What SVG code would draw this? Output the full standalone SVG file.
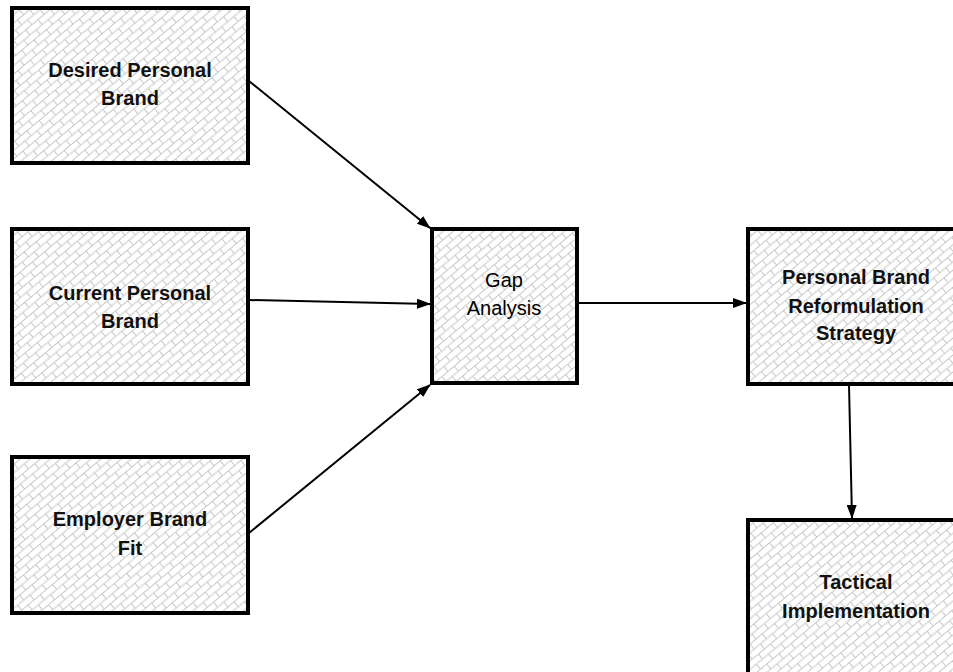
<svg xmlns="http://www.w3.org/2000/svg" width="953" height="672" viewBox="0 0 953 672">
<defs>
<pattern id="brick" width="16" height="13" patternUnits="userSpaceOnUse" patternTransform="rotate(-40)">
<rect width="16" height="13" fill="#ffffff"/>
<path d="M0 0.5H16M0 7H16M0.5 0.5V7M8.5 7V13" stroke="#c8c8c8" stroke-width="1" fill="none"/>
</pattern>
<marker id="arr" markerWidth="14" markerHeight="10" refX="13" refY="5" orient="auto" markerUnits="userSpaceOnUse">
<path d="M0 0L14 5L0 10Z" fill="#000"/>
</marker>
<style>
.box{fill:url(#brick);stroke:#000;stroke-width:4}
.t{font-family:"Liberation Sans",Arial,sans-serif;font-size:20px;font-weight:bold;text-anchor:middle;fill:#111}
.r{font-weight:normal;fill:#000}
.c{stroke:#000;stroke-width:2;fill:none;marker-end:url(#arr)}
</style>
</defs>
<rect width="953" height="672" fill="#fff"/>
<g id="connectors">
<line class="c" x1="249" y1="81" x2="430" y2="228"/>
<line class="c" x1="249" y1="300" x2="430" y2="304"/>
<line class="c" x1="249" y1="533" x2="430" y2="385"/>
<line class="c" x1="578" y1="303" x2="746" y2="303"/>
<line class="c" x1="849" y1="385" x2="852" y2="518"/>
</g>
<g id="desired">
<rect class="box" x="12" y="8" width="236" height="155"/>
<text class="t" x="130" y="77">Desired Personal</text>
<text class="t" x="130" y="105">Brand</text>
</g>
<g id="current">
<rect class="box" x="12" y="229" width="236" height="155"/>
<text class="t" x="130" y="300">Current Personal</text>
<text class="t" x="130" y="328">Brand</text>
</g>
<g id="employer">
<rect class="box" x="12" y="457" width="236" height="156"/>
<text class="t" x="130" y="526">Employer Brand</text>
<text class="t" x="130" y="555">Fit</text>
</g>
<g id="gap">
<rect class="box" x="432" y="229" width="145" height="154"/>
<text class="t r" x="504" y="287">Gap</text>
<text class="t r" x="504" y="315">Analysis</text>
</g>
<g id="reformulation">
<rect class="box" x="748" y="229" width="218" height="155"/>
<text class="t" x="856" y="284">Personal Brand</text>
<text class="t" x="856" y="313">Reformulation</text>
<text class="t" x="856" y="340">Strategy</text>
</g>
<g id="tactical">
<rect class="box" x="748" y="520" width="218" height="160"/>
<text class="t" x="856" y="589">Tactical</text>
<text class="t" x="856" y="618">Implementation</text>
</g>
</svg>
